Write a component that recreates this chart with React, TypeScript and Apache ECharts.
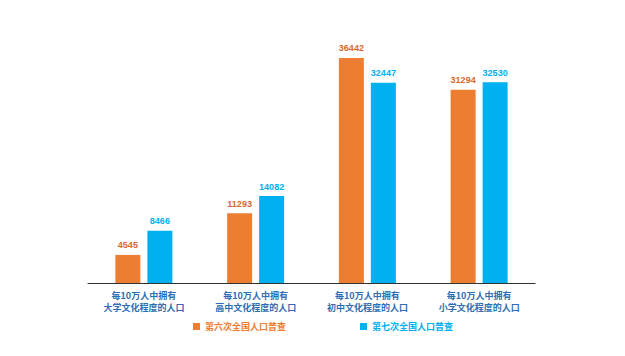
import React, { useEffect, useRef } from "react";
import * as echarts from "echarts";

const categories = [
  "每10万人中拥有\n大学文化程度的人口",
  "每10万人中拥有\n高中文化程度的人口",
  "每10万人中拥有\n初中文化程度的人口",
  "每10万人中拥有\n小学文化程度的人口",
];
const census6 = [4545, 11293, 36442, 31294];
const census7 = [8466, 14082, 32447, 32530];
const seriesNames = ["第六次全国人口普查", "第七次全国人口普查"];

export default function App() {
  const ref = useRef<HTMLDivElement>(null);
  useEffect(() => {
    const chart = echarts.init(ref.current!, null, { renderer: "svg" });
    chart.setOption({
      animation: false,
      backgroundColor: "#ffffff",
      grid: { left: 88, right: 90, top: 36, bottom: 73, containLabel: false },
      legend: {
        bottom: 20,
        left: 188,
        itemWidth: 7,
        itemHeight: 7,
        itemGap: 74,
        icon: "rect",
        textStyle: { fontSize: 9, fontWeight: "bold", fontFamily: "Noto Sans CJK SC" },
        data: [
          { name: seriesNames[0], textStyle: { color: "#ED7D31" } },
          { name: seriesNames[1], textStyle: { color: "#00B0F0" } },
        ],
      },
      xAxis: {
        type: "category",
        data: categories,
        axisLine: { lineStyle: { color: "#333333", width: 1 } },
        axisTick: { show: false },
        axisLabel: {
          color: "#2E6DB4",
          fontSize: 9,
          fontWeight: "bold",
          lineHeight: 12,
          margin: 6,
          fontFamily: "Noto Sans CJK SC",
        },
      },
      yAxis: {
        type: "value",
        min: 0,
        max: 40000,
        show: false,
        splitLine: { show: false },
      },
      series: [
        {
          name: seriesNames[0],
          type: "bar",
          data: census6,
          barWidth: 25,
          barGap: "28%",
          itemStyle: { color: "#ED7D31" },
          label: {
            show: true,
            position: "top",
            color: "#D8692A",
            fontSize: 9,
            fontWeight: "bold",
            distance: 5,
            fontFamily: "Liberation Sans",
          },
        },
        {
          name: seriesNames[1],
          type: "bar",
          data: census7,
          barWidth: 25,
          barGap: "28%",
          itemStyle: { color: "#00B0F0" },
          label: {
            show: true,
            position: "top",
            color: "#00B0F0",
            fontSize: 9,
            fontWeight: "bold",
            distance: 5,
            fontFamily: "Liberation Sans",
          },
        },
      ],
    });
    return () => chart.dispose();
  }, []);
  return <div ref={ref} style={{ width: 625, height: 356, position: "absolute", left: 0, top: 0 }} />;
}
